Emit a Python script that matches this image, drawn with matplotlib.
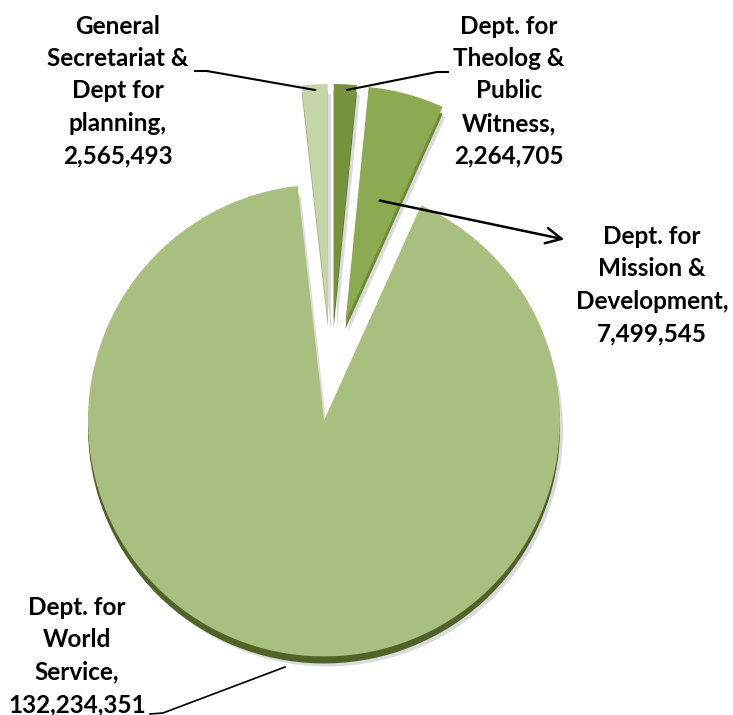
import matplotlib.pyplot as plt

# данные
labels = ["Dept. for\nTheolog &\nPublic\nWitness,\n2,264,705",
          "Dept. for\nMission &\nDevelopment,\n7,499,545",
          "Dept. for\nWorld\nService,\n132,234,351",
          "General\nSecretariat &\nDept for\nplanning,\n2,565,493"]
values = [2264705, 7499545, 132234351, 2565493]
colors = ["#76923C", "#8CAA52", "#A9BF7F", "#C4D6A8"]
side_colors = ["#5A7030", "#6E8A37", "#4F6228", "#9DB17F"]

W, H = 733, 715
def Y(y):  # картинка -> координаты осей
    return H - y

fig = plt.figure(figsize=(W / 100, H / 100), dpi=100)
ax = fig.add_axes([0, 0, 1, 1])

cx, cy, r = 331, Y(376), 236
explode = [56, 56, 45, 56]  # в единицах осей (пиксели)

# тень и боковая грань
ax.pie(values, colors=["#B0B0B0"] * 4, startangle=90, counterclock=False,
       explode=explode, radius=r, center=(cx + 3, cy - 10),
       wedgeprops=dict(linewidth=0, alpha=0.45))
ax.pie(values, colors=side_colors, startangle=90, counterclock=False,
       explode=explode, radius=r, center=(cx, cy - 7),
       wedgeprops=dict(linewidth=0))
ax.pie(values, colors=colors, startangle=90, counterclock=False,
       explode=explode, radius=r, center=(cx, cy),
       wedgeprops=dict(linewidth=0))

ax.set_xlim(0, W)
ax.set_ylim(0, H)
ax.set_aspect("equal")
ax.axis("off")

font = dict(family="Lato", fontweight="bold", fontsize=17.5,
            ha="center", va="center", linespacing=1.5)
ax.text(509, Y(91), labels[0], **font)
ax.text(652, Y(285), labels[1], **font)
ax.text(77, Y(656), labels[2], **font)
ax.text(118, Y(91), labels[3], **font)

# выноски
ax.plot([195, 207, 315], [Y(71), Y(71), Y(90)], color="black", lw=1.5)
ax.plot([448, 437, 347], [Y(72), Y(72), Y(90)], color="black", lw=1.5)
ax.plot([150, 163, 285], [Y(714), Y(713), Y(667)], color="black", lw=1.2)
ax.annotate("", xy=(567, Y(240)), xytext=(377, Y(200)),
            arrowprops=dict(arrowstyle="->", lw=1.8, color="black",
                            mutation_scale=28))

fig.savefig("out.png", dpi=100)
